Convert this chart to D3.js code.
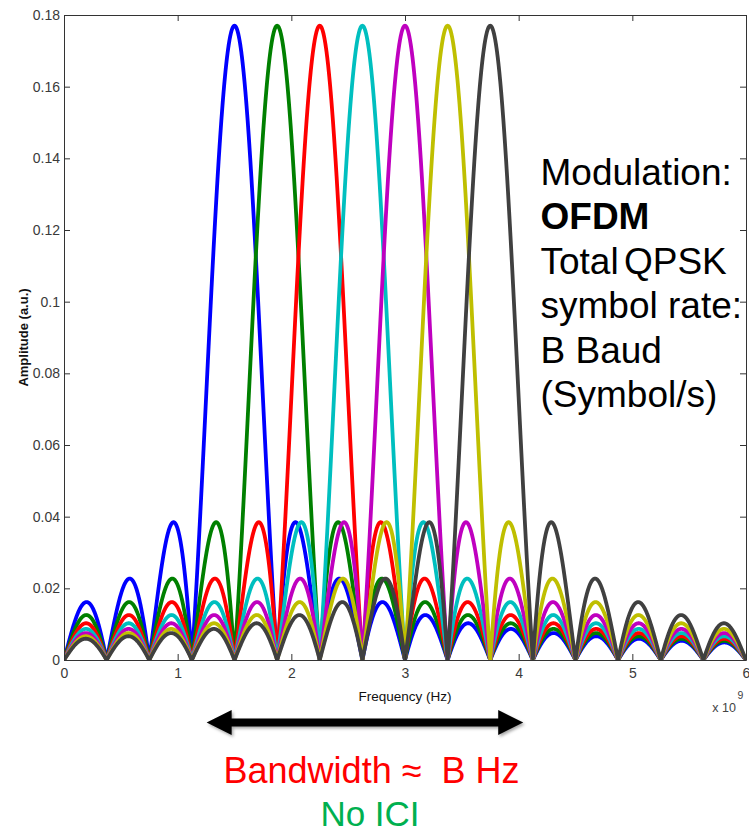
<!DOCTYPE html>
<html>
<head>
<meta charset="utf-8">
<script src="https://cdn.jsdelivr.net/npm/d3@7"></script>
<style>
  html, body { margin: 0; padding: 0; background: #fff; }
  svg { display: block; font-family: "Liberation Sans", Arial, sans-serif; }
</style>
</head>
<body>
<svg id="chart" width="749" height="833"></svg>
<script>
// ---- data (frequencies in units of 1e9 Hz) ----
const subcarrierNames = ["sc1", "sc2", "sc3", "sc4", "sc5", "sc6", "sc7"];
const subcarrierCenters = [1.5, 1.875, 2.25, 2.625, 3.0, 3.375, 3.75];
const subcarrierPeaks = [0.177, 0.177, 0.177, 0.177, 0.177, 0.177, 0.177];
const subcarrierNullSpacing = 0.375;   // first null of each sinc lobe
const xTicks = [0, 1, 2, 3, 4, 5, 6];
const yTicks = [0, 0.02, 0.04, 0.06, 0.08, 0.1, 0.12, 0.14, 0.16, 0.18];
const xDomain = [0, 6];
const yDomain = [0, 0.18];
const bandwidthArrow = [1.255, 4.04];   // annotation span, 1e9 Hz
const infoLines = ["Modulation:", "OFDM", "Total QPSK", "symbol rate:", "B Baud", "(Symbol/s)"];

// ---- styles ----
const seriesColors = ["#0000ff", "#008000", "#ff0000", "#00bfbf", "#bf00bf", "#bfbf00", "#404040"];
const FONT = "'Liberation Sans', Arial, sans-serif";

const svg = d3.select("#chart");
const plot = { left: 64, right: 746, top: 15, bottom: 660 };

const x = d3.scaleLinear().domain(xDomain).range([plot.left, plot.right]);
const y = d3.scaleLinear().domain(yDomain).range([plot.bottom, plot.top]);

// sampled frequency grid for the |sinc| spectra of each subcarrier
const grid = d3.range(xDomain[0], xDomain[1] + 1e-9, 0.002);
function sincAbs(u) { if (Math.abs(u) < 1e-12) return 1; return Math.abs(Math.sin(Math.PI * u) / (Math.PI * u)); }
const series = subcarrierCenters.map((c, i) => ({
  name: subcarrierNames[i],
  color: seriesColors[i],
  values: grid.map(f => ({ f, a: subcarrierPeaks[i] * sincAbs((f - c) / subcarrierNullSpacing) }))
}));

const defs = svg.append("defs");
defs.append("clipPath").attr("id", "clip")
  .append("rect").attr("x", plot.left).attr("y", plot.top - 4)
  .attr("width", plot.right - plot.left).attr("height", plot.bottom - plot.top + 4);

const line = d3.line().x(d => x(d.f)).y(d => y(d.a));

svg.append("g").attr("clip-path", "url(#clip)")
  .selectAll("path").data(series).join("path")
  .attr("d", d => line(d.values))
  .attr("fill", "none")
  .attr("stroke", d => d.color)
  .attr("stroke-width", 3.8)
  .attr("stroke-linejoin", "round")
  .attr("stroke-linecap", "round");

// ---- axes (MATLAB style box with inward ticks) ----
const axisColor = "#333";
function styleAxis(g) {
  g.selectAll("path.domain").attr("stroke", axisColor).attr("stroke-width", 1);
  g.selectAll(".tick line").attr("stroke", axisColor);
  g.selectAll(".tick text").attr("fill", "#3a3a3a").attr("font-size", 14).attr("font-family", FONT);
}
svg.append("g").attr("transform", `translate(0,${plot.bottom})`)
  .call(d3.axisBottom(x).tickValues(xTicks).tickFormat(d3.format("d")).tickSizeInner(-6).tickSizeOuter(0).tickPadding(8))
  .call(styleAxis);
svg.append("g").attr("transform", `translate(${plot.left},0)`)
  .call(d3.axisLeft(y).tickValues(yTicks).tickFormat(d => d === 0 ? "0" : String(+d.toFixed(2))).tickSizeInner(-6).tickSizeOuter(0).tickPadding(4))
  .call(styleAxis);
svg.append("g").attr("transform", `translate(0,${plot.top})`)
  .call(d3.axisTop(x).tickValues(xTicks).tickFormat("").tickSizeInner(-6).tickSizeOuter(0))
  .call(styleAxis);
svg.append("g").attr("transform", `translate(${plot.right},0)`)
  .call(d3.axisRight(y).tickValues(yTicks).tickFormat("").tickSizeInner(-6).tickSizeOuter(0))
  .call(styleAxis);

// axis titles
svg.append("text").attr("x", (plot.left + plot.right) / 2).attr("y", 701)
  .attr("text-anchor", "middle").attr("font-size", 13.5).attr("fill", "#111").attr("font-family", FONT)
  .text("Frequency (Hz)");
svg.append("text").attr("transform", `translate(28,${(plot.top + plot.bottom) / 2}) rotate(-90)`)
  .attr("text-anchor", "middle").attr("font-size", 13).attr("font-weight", "bold").attr("fill", "#111").attr("font-family", FONT)
  .text("Amplitude (a.u.)");

// exponent label
svg.append("text").attr("x", 736).attr("y", 712).attr("text-anchor", "end")
  .attr("font-size", 12.5).attr("fill", "#444").attr("font-family", FONT).text("x 10");
svg.append("text").attr("x", 737.5).attr("y", 699).attr("font-size", 10.5).attr("fill", "#444").attr("font-family", FONT).text("9");

// ---- bandwidth arrow ----
const f = defs.append("filter").attr("id", "shadow").attr("x", "-10%").attr("y", "-50%").attr("width", "120%").attr("height", "200%");
f.append("feDropShadow").attr("dx", 1.5).attr("dy", 2).attr("stdDeviation", 1.5).attr("flood-color", "#000").attr("flood-opacity", 0.35);

const ax0 = x(bandwidthArrow[0]), ax1 = x(bandwidthArrow[1]), ay = 722.5;
const hl = 25, hh = 12.5, sh = 4;
const arrowPath = [
  [ax0, ay], [ax0 + hl, ay - hh], [ax0 + hl, ay - sh], [ax1 - hl, ay - sh], [ax1 - hl, ay - hh],
  [ax1, ay], [ax1 - hl, ay + hh], [ax1 - hl, ay + sh], [ax0 + hl, ay + sh], [ax0 + hl, ay + hh]
];
svg.append("path").attr("d", "M" + arrowPath.map(p => p.join(",")).join("L") + "Z")
  .attr("fill", "#000").attr("filter", "url(#shadow)");

svg.append("text").attr("x", 371.5).attr("y", 783).attr("text-anchor", "middle")
  .attr("font-size", 36).attr("fill", "#ff0000").attr("font-family", FONT).attr("xml:space", "preserve")
  .text("Bandwidth \u2248  B Hz");
svg.append("text").attr("x", 370).attr("y", 826).attr("text-anchor", "middle")
  .attr("font-size", 35).attr("fill", "#00b050").attr("font-family", FONT).text("No ICI");

// ---- info block ----
const info = svg.append("g");
info.selectAll("text").data(infoLines).join("text")
  .attr("x", 540.5)
  .attr("y", (d, i) => 185 + i * 44.4)
  .attr("font-size", 37)
  .attr("font-family", FONT)
  .attr("font-weight", (d, i) => i === 1 ? "bold" : "normal")
  .attr("word-spacing", (d, i) => i === 2 ? -5 : 0)
  .attr("fill", "#000")
  .text(d => d);
</script>
</body>
</html>
